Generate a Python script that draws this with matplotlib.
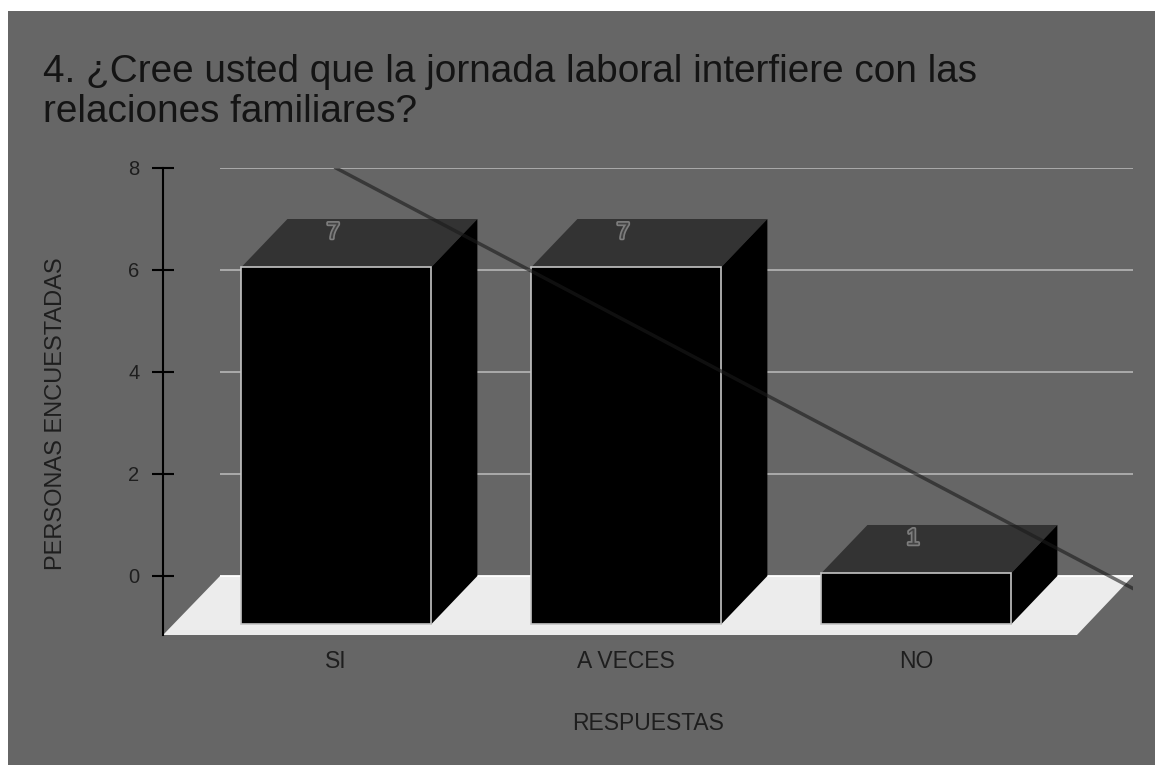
import numpy as np
import matplotlib
matplotlib.use("Agg")
import matplotlib.pyplot as plt
from matplotlib.patches import Polygon, Rectangle
import matplotlib.patheffects as pe

# ---- data ----
title = "4. ¿Cree usted que la jornada laboral interfiere con las\nrelaciones familiares?"
categories = ["SI", "A VECES", "NO"]
values = [7, 7, 1]
y_ticks = [0, 2, 4, 6, 8]
x_label = "RESPUESTAS"
y_label = "PERSONAS ENCUESTADAS"

# ---- style ----
BG = "#666666"
FONT = "Liberation Sans"
W, H = 1155, 765
fig = plt.figure(figsize=(W / 100, H / 100), dpi=100, facecolor="white")

# grey panel
fig.patches.append(Rectangle((8 / W, 0), 1, (H - 11) / H, transform=fig.transFigure,
                             facecolor=BG, edgecolor="none", zorder=-10))

# axes region in pixels: x 163..1133, y 168..635
ax = fig.add_axes([163 / W, (H - 635) / H, 970 / W, 467 / H])
ax.patch.set_visible(False)
x_min, x_max = -0.5966, 2.7483
y_min, y_max = -1.157, 8
ax.set_xlim(x_min, x_max)
ax.set_ylim(y_min, y_max)

bar_w = 0.655
dx, dy = 0.160, 0.951  # 3D depth offset in data units
floor_back_x0 = -0.40
floor_front_x1 = 2.555

# floor
ax.add_patch(Polygon([(x_min, y_min), (floor_front_x1, y_min), (x_max, 0), (floor_back_x0, 0)],
                     closed=True, facecolor="#ececec", edgecolor="none", zorder=1))

# gridlines (back plane)
for t in y_ticks:
    ax.plot([floor_back_x0, x_max], [t, t], color="white" if t == 0 else "#b0b0b0",
            lw=1.3, zorder=1.5, solid_capstyle="butt")

# bars
for i, v in enumerate(values):
    x0, x1 = i - bar_w / 2, i + bar_w / 2
    top = v - dy
    ax.add_patch(Polygon([(x0, top), (x1, top), (x1 + dx, v), (x0 + dx, v)],
                         closed=True, facecolor="#333333", edgecolor="none", zorder=3))
    ax.add_patch(Polygon([(x1, -dy), (x1, top), (x1 + dx, v), (x1 + dx, 0)],
                         closed=True, facecolor="black", edgecolor="none", zorder=3))
    ax.add_patch(Rectangle((x0, -dy), bar_w, v, facecolor="black", edgecolor="#c4c4c4",
                           lw=1.2, zorder=4))
    ax.text(i - 0.01, v - 0.03, str(v), ha="center", va="top", fontsize=16.5, family=FONT,
            color="#444444", zorder=6,
            path_effects=[pe.withStroke(linewidth=2.5, foreground="#7d7d7d")])

# linear trendline
xs = np.arange(len(values))
slope, intercept = np.polyfit(xs, values, 1)
tx = np.array([0, x_max])
ax.plot(tx, intercept + slope * tx, color="#1a1a1a", alpha=0.6, lw=2.5, zorder=5)

# axes styling
for s in ["top", "right", "bottom"]:
    ax.spines[s].set_visible(False)
ax.spines["left"].set_color("black")
ax.spines["left"].set_linewidth(1.5)
ax.set_yticks(y_ticks)
ax.set_yticklabels([str(t) for t in y_ticks], family=FONT, fontsize=14.5, color="#1e1e1e")
ax.tick_params(axis="y", direction="inout", length=16.5, width=1.5, pad=8.6, color="black")
ax.set_xticks(xs)
ax.set_xticklabels(categories, family=FONT, fontsize=16.5, color="#1e1e1e")
ax.tick_params(axis="x", length=0, pad=11)

ax.set_xlabel(x_label, family=FONT, fontsize=16.5, color="#1e1e1e", labelpad=28)
ax.set_ylabel(y_label, family=FONT, fontsize=17, color="#1e1e1e", va="center")
ax.yaxis.set_label_coords(-0.1098, 0.473)

# va="baseline" on multi-line text aligns the last line's baseline
fig.text(43 / W, 1 - 122 / H, title, ha="left", va="baseline", fontsize=27.9, family=FONT,
         color="#141414", linespacing=1.14)

fig.savefig("out.png", dpi=100, facecolor="white")
